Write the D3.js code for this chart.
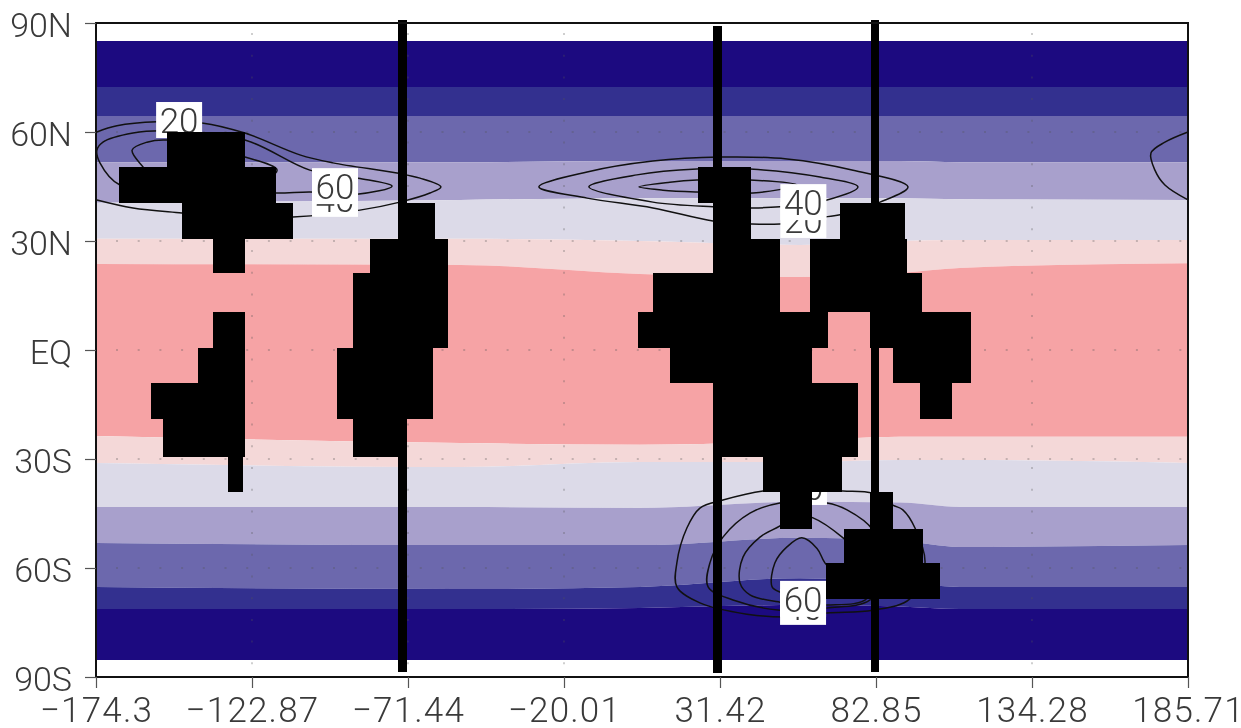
<!DOCTYPE html>
<html>
<head>
<meta charset="utf-8">
<script src="https://cdn.jsdelivr.net/npm/d3@7"></script>
<style>
html,body{margin:0;padding:0;background:#fff;overflow:hidden}
svg{display:block;filter:blur(0.45px)}
</style>
</head>
<body>
<svg id="chart" width="1241" height="728"></svg>
<script>
// ---- data (longitude in degrees east, latitude in degrees north) ----
const lonTicks = [-174.3,-122.87,-71.44,-20.01,31.42,82.85,134.28,185.71];
const latTicks = [90,60,30,0,-30,-60,-90];
const latTickLabels = ["90N","60N","30N","EQ","30S","60S","90S"];
const gridLats = [60,30,0,-30,-60];

const bandLons = [-174.3,-54.3,5.0,57.8,90.8,110.5,185.71];
const bandEdges = [
  [85.05,85.05,85.05,85.05,85.05,85.05,85.05],
  [72.4,72.4,72.4,72.4,72.4,72.4,72.4],
  [64.4,64.4,64.4,64.4,64.4,64.4,64.4],
  [51.7,51.7,52.0,52.0,52.0,51.7,51.7],
  [40.5,41.3,41.8,41.8,41.8,41.5,41.3],
  [30.6,30.6,30.0,28.9,30.0,30.3,30.3],
  [23.7,23.4,20.9,20.1,21.2,22.6,23.9],
  [-23.7,-25.6,-26.1,-25.0,-23.9,-23.9,-23.9],
  [-31.1,-32.2,-30.8,-30.8,-30.3,-30.3,-31.1],
  [-43.2,-43.2,-43.5,-41.8,-42.0,-43.2,-43.2],
  [-53.1,-53.7,-53.7,-51.7,-52.5,-54.2,-53.7],
  [-65.2,-65.8,-65.2,-62.8,-64.0,-65.2,-65.2],
  [-71.3,-71.3,-71.0,-70.2,-70.6,-71.3,-71.3],
  [-85.3,-85.3,-85.3,-85.3,-85.3,-85.3,-85.3]
];
const bandColors = ["#1c0a80","#33308f","#6c68ad","#a8a0cc","#dcdae8","#f4d8d8","#f6a3a5","#f4d8d8","#dcdae8","#a8a0cc","#6c68ad","#33308f","#1c0a80"];

const contourOpen = [
  [[185.71,60.0],[178.1,57.2],[173.5,54.2],[174.8,49.5],[178.1,45.4],[185.71,41.3]],
  [[-174.0,60.0],[-167.4,61.7],[-154.2,62.8],[-139.4,62.5],[-125.2,59.7],[-107.1,53.7],[-96.2,51.5],[-75.1,48.7],[-67.5,47.3],[-60.6,44.9],[-64.2,43.2],[-74.1,40.7],[-87.3,38.5],[-109.4,36.6],[-126.8,36.3],[-146.0,37.7],[-162.1,39.1],[-174.0,41.3]]
];
const contourClosed = [
  [[-174.0,55.0],[-172.0,57.2],[-162.1,59.7],[-150.9,60.3],[-125.2,57.8],[-103.8,49.5],[-87.9,47.3],[-76.7,45.1],[-88.3,42.9],[-103.8,43.5],[-114.6,43.2],[-140,44],[-166.4,45.4],[-173.0,51.5]],
  [[-162.4,55.0],[-157.5,57.2],[-150.9,57.8],[-125.2,53.1],[-114.6,49.5],[-123.5,45.4],[-153.2,45.4],[-158.8,50.4]],
  [[-28.3,44.9],[-12.4,49.0],[9.3,52.0],[31.4,53.1],[53.5,52.6],[75.3,49.5],[93.4,44.9],[84.2,40.7],[71.0,37.2],[66.0,36.6],[51.2,34.7],[41.3,34.7],[29.1,35.5],[9.3,39.1],[-12.4,41.8]],
  [[-11.8,44.9],[4.0,48.2],[23.8,49.8],[41.3,49.8],[64.4,47.6],[76.9,44.9],[66.7,41.3],[51.2,39.4],[41.3,39.1],[29.1,39.4],[9.3,40.7]],
  [[4.7,44.9],[14.9,46.2],[23.8,46.8],[41.3,46.8],[56.8,45.4],[42.3,43.2],[23.8,43.5],[12.6,44.0]],
  [[45.6,-38.8],[32.4,-41.3],[24.8,-43.5],[20.5,-49.0],[17.2,-58.6],[17.2,-65.2],[24.8,-69.6],[40.3,-72.7],[54.5,-73.5],[66.7,-72.4],[81.8,-71.6],[94.0,-68.5],[99.0,-58.6],[95.7,-49.0],[91.7,-44.0],[88.4,-42.7],[81.8,-39.4],[72.0,-38.8],[61.1,-38.5]],
  [[51.2,-42.1],[41.3,-44.9],[32.4,-51.5],[28.1,-58.6],[27.5,-65.2],[35.7,-68.8],[51.2,-71.6],[66.7,-71.0],[80.9,-68.8],[85.8,-60.6],[81.8,-49.5],[73.3,-44.0],[66.7,-42.1]],
  [[51.2,-48.4],[44.6,-51.5],[39.0,-57.0],[38.0,-64.1],[41.3,-67.4],[51.2,-69.4],[66.7,-70.2],[79.9,-68.3],[80.9,-59.2],[72.0,-51.7],[62.1,-46.2],[56.1,-45.4]],
  [[48.6,-65.2],[49.5,-58.6],[53.5,-54.2],[58.4,-51.7],[63.4,-54.6],[66.0,-58.6],[74.3,-66.1],[66.7,-68.0],[51.2,-66.6]]
];
// contour labels: text, longitude, latitude of the label centre (drawn in this order)
const contourLabels = [
  ["20",-146.9,63.3],
  ["40",-95.5,41.6],
  ["60",-95.5,45.1],
  ["20",58.9,35.8],
  ["40",58.9,40.7],
  ["20",59.1,-37.7],
  ["40",58.8,-70.7],
  ["60",58.8,-68.5]
];

const maskLatEdges = [60.0,50.4,40.5,30.6,21.2,10.5,0.6,-9.1,-19,-29.5,-39.1,-49.3,-58.6,-68.5];
const maskRows = [
  [[-150.9,-125.2]],
  [[-166.7,-115.0],[24.2,41.6]],
  [[-146,-109.4],[-74.1,-62.55],[29.1,41.6],[71,92.4]],
  [[-135.7,-125.2],[-84,-58.3],[29.1,51.2],[61.1,93.1]],
  [[-89.6,-58.3],[9.3,51.2],[61.1,98]],
  [[-135.7,-125.2],[-89.6,-58.3],[4.4,67],[80.9,114.2]],
  [[-140.7,-125.2],[-94.85,-63.2],[14.9,61.7],[88.4,114.2]],
  [[-156.2,-125.2],[-94.85,-63.2],[29.1,76.9],[97.3,107.9]],
  [[-152.2,-125.2],[-89.6,-72.1],[29.1,76.9]],
  [[-130.8,-125.8],[45.6,71.6]],
  [[51.2,61.7],[81,88.4]],
  [[72.3,98.3]],
  [[66.4,103.9]]
];
// long meridional bars: west, east, south, north
const meridianBars = [
  [-74.7,-71.8,-88.6,90.8],
  [29.1,32.1,-88.9,89.2],
  [81.2,83.8,-88.6,90.8]
];

// ---- layout ----
const svg = d3.select("#chart");
const plotL = 96, plotR = 1188, plotT = 23, plotB = 677;
const fontFam = 'Roboto,"Liberation Sans",Arial,sans-serif';
const textCol = "#3a3a3a";
const x = d3.scaleLinear().domain([-174.3,185.71]).range([plotL,plotR]);
const y = d3.scaleLinear().domain([90,-90]).range([plotT,plotB]);

// colour bands
const bandArea = d3.area().x(d=>x(d.lon)).y0(d=>y(d.lo)).y1(d=>y(d.hi)).curve(d3.curveMonotoneX);
svg.append("g").selectAll("path").data(bandColors).join("path")
  .attr("fill",d=>d)
  .attr("d",(d,i)=>bandArea(bandLons.map((lon,k)=>({lon,hi:bandEdges[i][k],lo:bandEdges[i+1][k]}))));

// dotted grid
const grid = svg.append("g").attr("stroke","#555").attr("stroke-opacity",0.4).attr("stroke-width",1.4).attr("stroke-dasharray","2 19.7");
grid.selectAll("line.h").data(gridLats).join("line").attr("class","h")
  .attr("x1",plotL+20).attr("x2",plotR).attr("y1",d=>y(d)).attr("y2",d=>y(d));
grid.selectAll("line.v").data(lonTicks.slice(1,-1)).join("line").attr("class","v")
  .attr("x1",d=>x(d)).attr("x2",d=>x(d)).attr("y1",plotT+10).attr("y2",plotB);

// contours
const openLine = d3.line().x(d=>x(d[0])).y(d=>y(d[1])).curve(d3.curveCatmullRom.alpha(0.5));
const closedLine = d3.line().x(d=>x(d[0])).y(d=>y(d[1])).curve(d3.curveCatmullRomClosed.alpha(0.5));
const cg = svg.append("g").attr("fill","none").attr("stroke","#111").attr("stroke-width",1.5);
cg.selectAll("path.o").data(contourOpen).join("path").attr("class","o").attr("d",openLine);
cg.selectAll("path.c").data(contourClosed).join("path").attr("class","c").attr("d",closedLine);

// contour labels on white boxes
const lg = svg.append("g");
contourLabels.forEach(([t,lon,lat])=>{
  const cx = x(lon), cy = y(lat);
  lg.append("rect").attr("x",cx-23).attr("y",cy-18).attr("width",46).attr("height",36).attr("fill","#fff");
  lg.append("text").attr("x",cx).attr("y",cy+13).attr("text-anchor","middle")
    .attr("font-family",fontFam).attr("font-weight",300).attr("fill",textCol).attr("font-size",35).text(t);
});

// black mask cells and bars
const mask = svg.append("g").attr("fill","#000").attr("shape-rendering","crispEdges");
maskRows.forEach((spans,r)=>{
  mask.append("g").selectAll("rect").data(spans).join("rect")
    .attr("x",d=>x(d[0])).attr("width",d=>x(d[1])-x(d[0]))
    .attr("y",y(maskLatEdges[r])).attr("height",y(maskLatEdges[r+1])-y(maskLatEdges[r]));
});
mask.append("g").selectAll("rect").data(meridianBars).join("rect")
  .attr("x",d=>x(d[0])).attr("width",d=>x(d[1])-x(d[0]))
  .attr("y",d=>y(d[3])).attr("height",d=>y(d[2])-y(d[3]));

// frame and axes
svg.append("rect").attr("x",plotL).attr("y",plotT).attr("width",plotR-plotL).attr("height",plotB-plotT)
  .attr("fill","none").attr("stroke","#111").attr("stroke-width",2);

const xAxis = d3.axisBottom(x).tickValues(lonTicks).tickSize(11).tickPadding(9)
  .tickFormat(d=>String(d).replace("-","\u2212"));
const gx = svg.append("g").attr("transform",`translate(0,${plotB})`).call(xAxis);
gx.select(".domain").remove();
gx.selectAll("line").attr("stroke","#555").attr("stroke-width",1.2);
gx.selectAll("text").attr("font-size",35).attr("letter-spacing",1.2).attr("fill",textCol)
  .style("font-family",fontFam).style("font-weight",300);

const yAxis = d3.axisLeft(y).tickValues(latTicks).tickSize(11).tickPadding(13)
  .tickFormat((d,i)=>latTickLabels[i]);
const gy = svg.append("g").attr("transform",`translate(${plotL},0)`).call(yAxis);
gy.select(".domain").remove();
gy.selectAll("line").attr("stroke","#555").attr("stroke-width",1.2);
gy.selectAll("text").attr("font-size",34).attr("fill",textCol).attr("dy","0.4em")
  .style("font-family",fontFam).style("font-weight",300);
</script>
</body>
</html>
